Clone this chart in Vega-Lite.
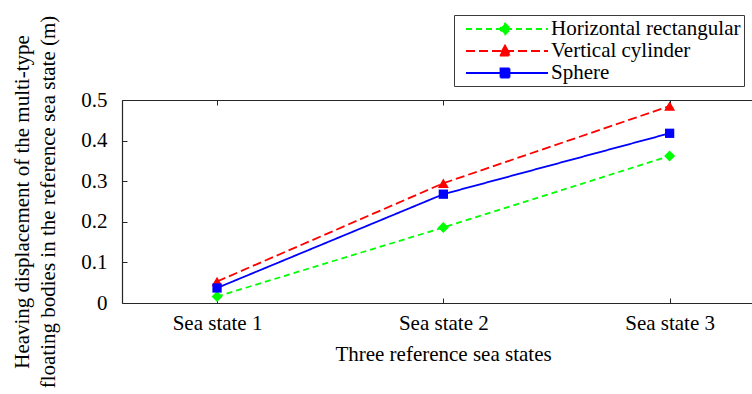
{
  "$schema": "https://vega.github.io/schema/vega-lite/v6.json",
  "width": 630,
  "height": 203,
  "autosize": {"type": "none"},
  "padding": {"left": 122, "top": 100, "right": 0, "bottom": 91},
  "background": "white",
  "config": {
    "font": "Liberation Serif",
    "view": {"stroke": null},
    "axis": {
      "labelFont": "Liberation Serif",
      "labelFontSize": 21,
      "labelColor": "#000000",
      "titleFont": "Liberation Serif",
      "titleFontSize": 21,
      "titleFontWeight": "normal",
      "titleColor": "#000000",
      "domainColor": "#262626",
      "tickColor": "#262626",
      "domainWidth": 1.2,
      "tickWidth": 1,
      "grid": false
    }
  },
  "data": {
    "values": [
      {"series": "Horizontal rectangular", "state": 1, "value": 0.016},
      {"series": "Horizontal rectangular", "state": 2, "value": 0.186},
      {"series": "Horizontal rectangular", "state": 3, "value": 0.362},
      {"series": "Vertical cylinder", "state": 1, "value": 0.053},
      {"series": "Vertical cylinder", "state": 2, "value": 0.295},
      {"series": "Vertical cylinder", "state": 3, "value": 0.485},
      {"series": "Sphere", "state": 1, "value": 0.037},
      {"series": "Sphere", "state": 2, "value": 0.268},
      {"series": "Sphere", "state": 3, "value": 0.418}
    ]
  },
  "resolve": {"axis": {"x": "independent"}},
  "layer": [
    {
      "mark": {"type": "line", "strokeWidth": 1.8, "clip": true},
      "encoding": {
        "x": {
          "field": "state", "type": "quantitative",
          "scale": {"domain": [0.58, 3.364], "nice": false, "zero": false},
          "axis": {
            "orient": "bottom",
            "values": [1, 2, 3],
            "labelExpr": "'Sea state ' + datum.value",
            "tickSize": -5,
            "labelPadding": 14,
            "title": "Three reference sea states",
            "titleX": 321,
            "titlePadding": 10
          }
        },
        "y": {
          "field": "value", "type": "quantitative",
          "scale": {"domain": [0, 0.5], "nice": false, "zero": true},
          "axis": {
            "values": [0, 0.1, 0.2, 0.3, 0.4, 0.5],
            "labelExpr": "datum.value == 0 ? '0' : format(datum.value, '.1f')",
            "tickSize": -5,
            "labelPadding": 20,
            "title": ["Heaving displacement of the multi-type", "floating bodies in the reference sea state (m)"],
            "titleLineHeight": 26,
            "titlePadding": 22
          }
        },
        "color": {
          "field": "series", "type": "nominal",
          "scale": {"domain": ["Horizontal rectangular", "Vertical cylinder", "Sphere"], "range": ["#00ff00", "#ff0000", "#0000ff"]},
          "legend": {
            "title": null,
            "orient": "none",
            "legendX": 332,
            "legendY": -85,
            "direction": "vertical",
            "padding": 3,
            "strokeColor": "#3a3a3a",
            "fillColor": "#ffffff",
            "cornerRadius": 0,
            "symbolSize": 400,
            "symbolStrokeWidth": 1.8,
            "labelFont": "Liberation Serif",
            "labelFontSize": 21,
            "labelColor": "#000000",
            "labelOffset": 72,
            "labelLimit": 400,
            "rowPadding": 1,
            "encode": {
              "symbols": {
                "update": {
                  "shape": {"signal": "datum.value === 'Horizontal rectangular' ? 'M-0.2,0H8M3.7,-0.55L4.25,0L3.7,0.55L3.15,0Z' : datum.value === 'Vertical cylinder' ? 'M-0.2,0H8M3.7,-0.55L4.25,0.45L3.15,0.45Z' : 'M-0.2,0H8M3.25,-0.45H4.15V0.45H3.25Z'"},
                  "fill": {"signal": "datum.value === 'Horizontal rectangular' ? '#00ff00' : datum.value === 'Vertical cylinder' ? '#ff0000' : '#0000ff'"},
                  "stroke": {"signal": "datum.value === 'Horizontal rectangular' ? '#00ff00' : datum.value === 'Vertical cylinder' ? '#ff0000' : '#0000ff'"},
                  "strokeDash": {"signal": "datum.value === 'Horizontal rectangular' ? [6, 4] : datum.value === 'Vertical cylinder' ? [9, 4] : [1, 0]"},
                  "strokeWidth": {"value": 1.8},
                  "opacity": {"value": 1},
                  "fillOpacity": {"value": 1}
                }
              }
            }
          }
        },
        "strokeDash": {
          "field": "series", "type": "nominal",
          "scale": {"domain": ["Horizontal rectangular", "Vertical cylinder", "Sphere"], "range": [[6, 4], [9, 4], [1, 0]]},
          "legend": null
        }
      }
    },
    {
      "transform": [{"filter": "datum.series === 'Horizontal rectangular'"}],
      "mark": {"type": "point", "shape": "diamond", "filled": true, "color": "#00ff00", "size": 121, "opacity": 1, "clip": true},
      "encoding": {
        "x": {
          "field": "state", "type": "quantitative",
          "axis": {
            "orient": "top",
            "values": [1, 2, 3],
            "labels": false,
            "tickSize": -5,
            "title": null
          }
        },
        "y": {"field": "value", "type": "quantitative"}
      }
    },
    {
      "transform": [{"filter": "datum.series === 'Vertical cylinder'"}],
      "mark": {"type": "point", "shape": "triangle-up", "filled": true, "color": "#ff0000", "size": 121, "opacity": 1, "clip": true},
      "encoding": {
        "x": {"field": "state", "type": "quantitative", "axis": null},
        "y": {"field": "value", "type": "quantitative"}
      }
    },
    {
      "transform": [{"filter": "datum.series === 'Sphere'"}],
      "mark": {"type": "point", "shape": "square", "filled": true, "color": "#0000ff", "size": 86, "opacity": 1, "clip": true},
      "encoding": {
        "x": {"field": "state", "type": "quantitative", "axis": null},
        "y": {"field": "value", "type": "quantitative"}
      }
    }
  ]
}
